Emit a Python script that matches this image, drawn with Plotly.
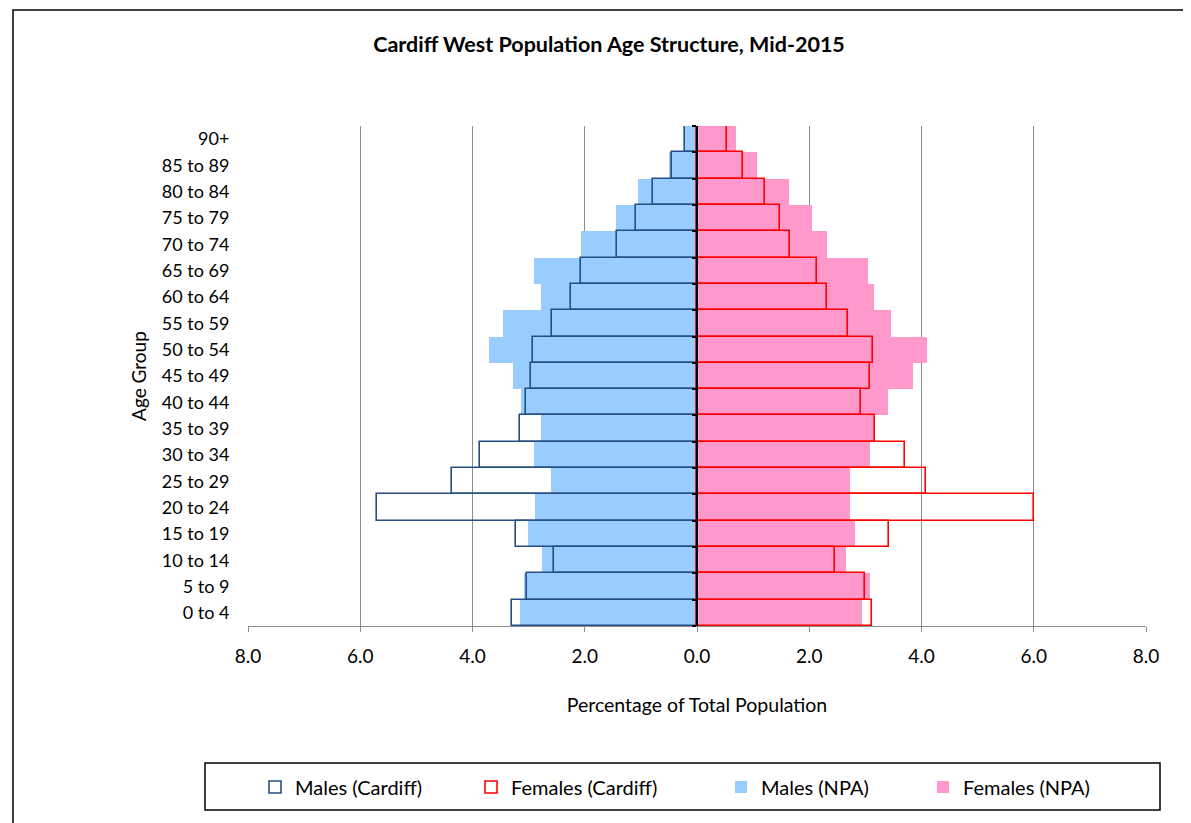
import plotly.graph_objects as go

age_groups = ["0 to 4", "5 to 9", "10 to 14", "15 to 19", "20 to 24", "25 to 29",
              "30 to 34", "35 to 39", "40 to 44", "45 to 49", "50 to 54", "55 to 59",
              "60 to 64", "65 to 69", "70 to 74", "75 to 79", "80 to 84", "85 to 89", "90+"]

males_cardiff = [3.30, 3.03, 2.54, 3.23, 5.71, 4.37, 3.86, 3.16, 3.05, 2.96, 2.93, 2.59,
                 2.25, 2.06, 1.43, 1.09, 0.78, 0.44, 0.21]
females_cardiff = [3.11, 2.99, 2.45, 3.42, 6.00, 4.08, 3.71, 3.17, 2.92, 3.09, 3.14, 2.69,
                   2.32, 2.14, 1.65, 1.48, 1.22, 0.82, 0.54]
males_npa = [3.15, 3.08, 2.76, 3.01, 2.88, 2.60, 2.91, 2.78, 3.13, 3.28, 3.70, 3.46,
             2.78, 2.91, 2.07, 1.44, 1.06, 0.50, 0.24]
females_npa = [2.94, 3.08, 2.66, 2.81, 2.72, 2.72, 3.09, 3.18, 3.40, 3.85, 4.10, 3.45,
               3.16, 3.05, 2.32, 2.05, 1.64, 1.07, 0.69]

x_tick_vals = [-8, -6, -4, -2, 0, 2, 4, 6, 8]
x_tick_text = ["8.0", "6.0", "4.0", "2.0", "0.0", "2.0", "4.0", "6.0", "8.0"]

FONT = "Lato, Carlito, Calibri, sans-serif"
ypos = list(range(len(age_groups)))

# page offset (body margin) in screen pixels
OFF = 8
W, H = 1191, 823
L, T = 248 - OFF, 126 - OFF
R = W - (1146 - OFF)
B = H - (626 - OFF)
pw, ph = W - L - R, H - T - B


def px(sx):
    return (sx - OFF - L) / pw


def py(sy):
    return (H - B - (sy - OFF)) / ph


def cx(sx):
    return (sx - OFF) / W


def cy(sy):
    return 1 - (sy - OFF) / H


fig = go.Figure()
fig.add_trace(go.Bar(y=ypos, x=[-v for v in males_npa], orientation="h", name="Males (NPA)",
                     marker=dict(color="#99ccff", line=dict(width=0)), legend="legend3"))
fig.add_trace(go.Bar(y=ypos, x=females_npa, orientation="h", name="Females (NPA)",
                     marker=dict(color="#ff99cc", line=dict(width=0)), legend="legend4"))
fig.add_trace(go.Bar(y=ypos, x=[-v for v in males_cardiff], orientation="h", name="Males (Cardiff)",
                     marker=dict(color="rgba(0,0,0,0)", line=dict(color="#254f84", width=1.6)),
                     legend="legend"))
fig.add_trace(go.Bar(y=ypos, x=females_cardiff, orientation="h", name="Females (Cardiff)",
                     marker=dict(color="rgba(0,0,0,0)", line=dict(color="#ff0000", width=1.6)),
                     legend="legend2"))
# invisible trace on second y axis so the central axis line renders
fig.add_trace(go.Scatter(x=[0], y=[0], yaxis="y2", mode="markers",
                         marker=dict(opacity=0), showlegend=False, hoverinfo="skip"))

leg_common = dict(orientation="h", xref="container", yref="container",
                  xanchor="left", yanchor="middle", bgcolor="rgba(0,0,0,0)",
                  borderwidth=0, font=dict(size=20, family=FONT))
legend_text_x = [295, 511, 761, 963]
leg_y = cy(787)

fig.update_layout(
    width=W, height=H,
    margin=dict(l=L, r=R, t=T, b=B),
    paper_bgcolor="white", plot_bgcolor="white",
    barmode="overlay", bargap=0,
    font=dict(family=FONT, size=18, color="black"),
    title=dict(text="<b>Cardiff West Population Age Structure, Mid-2015</b>",
               x=cx(609), xanchor="center", y=cy(44), yanchor="middle",
               font=dict(family=FONT, size=21.5, color="black")),
    xaxis=dict(range=[-8, 8], tickvals=x_tick_vals, ticktext=x_tick_text,
               showgrid=True, gridcolor="#8c8c8c", gridwidth=1.3,
               zeroline=False, showline=True, linecolor="#8c8c8c", linewidth=1.3,
               ticks="outside", ticklen=5, tickcolor="#8c8c8c",
               ticklabelstandoff=8,
               title=dict(text="Percentage of Total Population", standoff=32,
                          font=dict(size=19.5)),
               tickfont=dict(size=19)),
    yaxis=dict(range=[-0.5, len(age_groups) - 0.5], tickvals=ypos, ticktext=age_groups,
               showgrid=False, zeroline=False, showline=False,
               ticks="outside", ticklen=14, tickcolor="rgba(0,0,0,0)",
               title=dict(text="Age Group", standoff=10, font=dict(size=19)),
               tickfont=dict(size=18)),
    yaxis2=dict(range=[-0.5, len(age_groups) - 0.5], overlaying="y", anchor="free",
                position=0.5, side="left",
                tickvals=[i - 0.5 for i in range(len(age_groups) + 1)],
                showticklabels=False, ticks="outside", ticklen=4, tickwidth=2,
                tickcolor="black", showgrid=False, zeroline=False,
                showline=True, linecolor="black", linewidth=2),
    legend=dict(x=cx(legend_text_x[0] - 40), y=leg_y, **leg_common),
    legend2=dict(x=cx(legend_text_x[1] - 40), y=leg_y, **leg_common),
    legend3=dict(x=cx(legend_text_x[2] - 40), y=leg_y, **leg_common),
    legend4=dict(x=cx(legend_text_x[3] - 40), y=leg_y, **leg_common),
    showlegend=True,
)

# legend frame
fig.add_shape(type="rect", xref="paper", yref="paper",
              x0=px(205), x1=px(1160), y0=py(763), y1=py(810),
              line=dict(color="black", width=1.5), fillcolor="rgba(0,0,0,0)", layer="below")
# outer chart frame (right and bottom edges fall outside the visible page)
fig.add_shape(type="rect", xref="paper", yref="paper",
              x0=px(13), x1=px(1240), y0=py(10), y1=py(880),
              line=dict(color="black", width=1.5), fillcolor="rgba(0,0,0,0)", layer="below")

fig.write_html("out.html",
               post_script="document.documentElement.style.overflow='hidden';"
                           "document.body.style.overflow='hidden';")
